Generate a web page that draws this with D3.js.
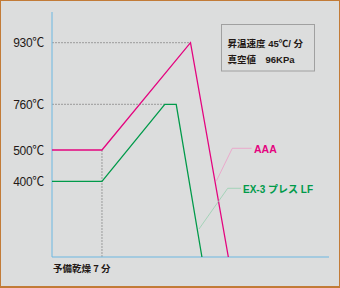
<!DOCTYPE html>
<html><head><meta charset="utf-8">
<script src="https://cdn.jsdelivr.net/npm/d3@7"></script>
<style>
html,body{margin:0;padding:0;background:#fff;}
svg{display:block;}
</style></head><body>
<script>
// Temperature tick labels (°C)
const yTicks = [930, 760, 500, 400];
// Time (minutes) — preheat drying 7 min
const preDry = 7;
// Series: [time, temp]
const seriesAAA = [[0,500],[7,500],[19.4,930],[24.7,0]];
const seriesEX3 = [[0,400],[7,400],[15.8,760],[17.4,760],[21.0,0]];
const seriesNames = ["AAA", "EX-3 プレス LF"];
const infoLines = ["昇温速度 45℃/ 分", "真空値　96KPa"];
const xLabel = "予備乾燥 7 分";

const W = 340, H = 288;
const svg = d3.select("body").append("svg").attr("width", W).attr("height", H);
svg.append("rect").attr("x",0).attr("y",0).attr("width",W).attr("height",H).attr("fill","#c27b37");
svg.append("rect").attr("x",1).attr("y",1).attr("width",W-2).attr("height",H-3).attr("fill","#dcdddd");

const x = d3.scaleLinear().domain([0, 38.8]).range([52, 329]);
// non-uniform temperature axis as drawn in the original
const y = d3.scaleLinear().domain([0, 400, 500, 760, 930]).range([257, 181.3, 150, 104.3, 42.7]);

const fontLat = "'Liberation Sans', Arial, 'Noto Sans CJK JP', sans-serif";

// dashed guides
const dash = svg.append("g").attr("stroke","#9c9c9c").attr("stroke-width",1).attr("stroke-dasharray","2,1").attr("fill","none");
dash.append("line").attr("x1",x(0)).attr("x2",x(seriesAAA[2][0])).attr("y1",y(930)).attr("y2",y(930));
dash.append("line").attr("x1",x(0)).attr("x2",x(seriesEX3[2][0])).attr("y1",y(760)).attr("y2",y(760));
dash.append("line").attr("x1",x(preDry)).attr("x2",x(preDry)).attr("y1",y(500)).attr("y2",y(0));

// axes
const axisG = svg.append("g");
axisG.append("line").attr("x1",x(0)).attr("x2",x(0)).attr("y1",12).attr("y2",y(0)).attr("stroke","#6cb8e2").attr("stroke-width",1);
axisG.append("line").attr("x1",x(0)).attr("x2",x.range()[1]).attr("y1",y(0)).attr("y2",y(0)).attr("stroke","#6cb8e2").attr("stroke-width",1.2);

// tick labels
svg.append("g").selectAll("text").data(yTicks).join("text")
  .attr("x",44).attr("y",d=>y(d)+4.5).attr("text-anchor","end")
  .attr("font-family",fontLat).attr("font-size",12).attr("fill","#231815")
  .attr("letter-spacing","-0.3")
  .text(d=>d+"℃");

svg.append("text").attr("x",x(0)+1).attr("y",271.5)
  .attr("font-family","'Noto Sans CJK JP', sans-serif").attr("font-size",9.5).attr("font-weight","bold")
  .attr("fill","#231815").text(xLabel);

// lines
const line = d3.line().x(d=>x(d[0])).y(d=>y(d[1]));
svg.append("path").datum(seriesEX3).attr("d",line).attr("fill","none").attr("stroke","#009a4a").attr("stroke-width",1.3);
svg.append("path").datum(seriesAAA).attr("d",line).attr("fill","none").attr("stroke","#e4047f").attr("stroke-width",1.3);

// leaders
svg.append("polyline").attr("points","251.7,148.3 232.3,148.3 216.5,180.7").attr("fill","none").attr("stroke","#ee9cc6").attr("stroke-width",0.8);
svg.append("polyline").attr("points","241,188.3 227.7,188.3 199,229").attr("fill","none").attr("stroke","#95cfae").attr("stroke-width",0.8);

svg.append("text").attr("x",254).attr("y",152.5).attr("font-family",fontLat).attr("font-size",10.5).attr("font-weight","bold").attr("fill","#e4047f").text(seriesNames[0]);
svg.append("text").attr("x",243).attr("y",192.5).attr("font-family","'Liberation Sans', Arial, 'Noto Sans CJK JP', sans-serif").attr("font-size",10).attr("font-weight","bold").attr("fill","#009a4a").text(seriesNames[1]);

// info box
svg.append("rect").attr("x",221.5).attr("y",24.5).attr("width",93).attr("height",46.5).attr("fill","none").attr("stroke","#a0a0a0").attr("stroke-width",1);
svg.append("g").selectAll("text").data(infoLines).join("text")
  .attr("x",227.5).attr("y",(d,i)=>47+i*15.5)
  .attr("font-family","'Liberation Sans', Arial, 'Noto Sans CJK JP', sans-serif").attr("font-size",9.5).attr("font-weight","bold")
  .attr("fill","#231815").text(d=>d);
</script>
</body></html>
